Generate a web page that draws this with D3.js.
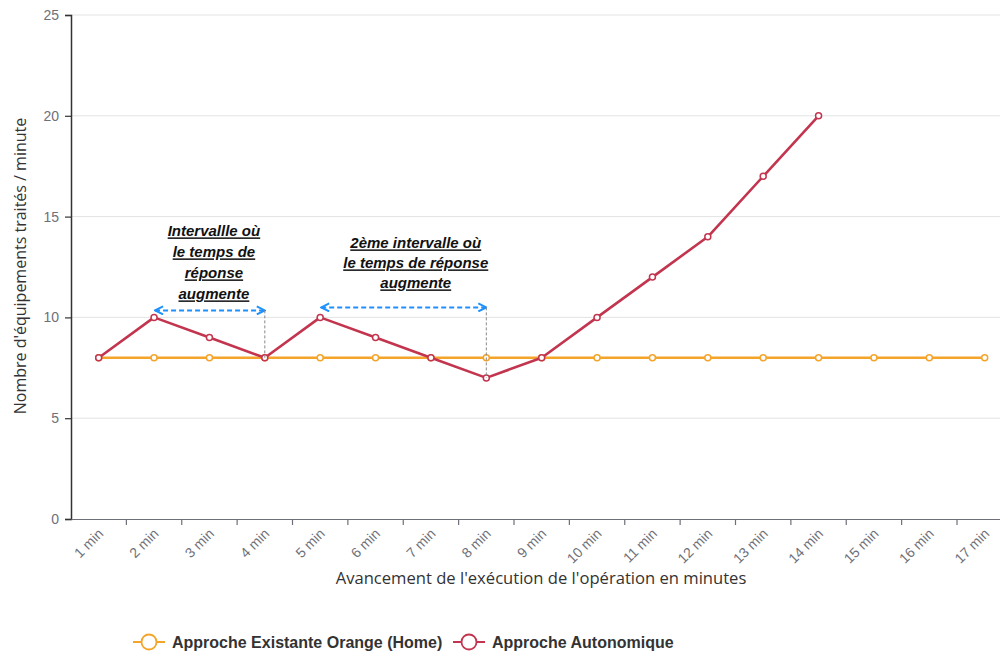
<!DOCTYPE html>
<html><head><meta charset="utf-8">
<script src="https://cdn.jsdelivr.net/npm/d3@7"></script>
<style>
html,body{margin:0;padding:0;background:#fff;overflow:hidden}
svg{display:block}
</style></head>
<body>
<svg id="chart" width="1000" height="655"></svg>
<script>
// Minutes of the operation (x categories)
const categories = ["1 min","2 min","3 min","4 min","5 min","6 min","7 min","8 min","9 min",
  "10 min","11 min","12 min","13 min","14 min","15 min","16 min","17 min"];
// Devices processed per minute
const existingValues = [8,8,8,8,8,8,8,8,8,8,8,8,8,8,8,8,8];
const autonomicValues = [8,10,9,8,10,9,8,7,8,10,12,14,17,20];
const seriesNames = ["Approche Existante Orange (Home)", "Approche Autonomique"];
const yTicks = [0,5,10,15,20,25];
// Intervals where response time rises: [start category, end category, label lines]
const intervals = [
  {from:"2 min", to:"4 min", lines:["Intervallle où","le temps de","réponse","augmente"]},
  {from:"5 min", to:"8 min", lines:["2ème intervalle où","le temps de réponse","augmente"]}
];
// per-annotation layout: arrow offset above the 10 gridline, text shift, gap, line height
const annotLayout = [
  {arrowUp:7, textDx:4, gap:11, lh:21},
  {arrowUp:10, textDx:12, gap:19, lh:20}
];

const colors = {existing:"#f5a42a", autonomic:"#c3354f"};
const svg = d3.select("#chart");
const margin = {left:71, top:15, bottom:519};
const bandW = 55.375;
const x = d3.scaleBand().domain(categories).range([margin.left, margin.left + bandW*categories.length]);
const y = d3.scaleLinear().domain([0,25]).range([margin.bottom, margin.top]);
const cx = c => x(c) + x.bandwidth()/2;

// grid
svg.append("g").selectAll("line").data(yTicks.filter(d=>d>0)).join("line")
  .attr("x1", margin.left).attr("x2", 1012)
  .attr("y1", d=>y(d)).attr("y2", d=>y(d))
  .attr("stroke","#e3e3e3").attr("stroke-width",1);

// y axis
const yAxis = svg.append("g").attr("transform",`translate(${margin.left},0)`)
  .call(d3.axisLeft(y).tickValues(yTicks).tickSize(6).tickPadding(6));
yAxis.select(".domain").attr("stroke","#333").attr("stroke-width",1.5);
yAxis.selectAll(".tick line").attr("stroke","#333").attr("stroke-width",1.2);
yAxis.selectAll("text").attr("fill","#6e7079").attr("font-size",14)
  .attr("font-family","Liberation Sans, Arial, sans-serif");

// x axis
const xAxis = svg.append("g").attr("transform",`translate(0,${margin.bottom})`)
  .call(d3.axisBottom(x).tickSizeOuter(0).tickSize(0).tickFormat(""));
xAxis.select(".domain").attr("stroke","#6e7079").attr("stroke-width",1.2);
xAxis.selectAll(".tick").remove();
// boundary ticks between categories
const bounds = categories.map(c=>x(c)).concat([x(categories[categories.length-1])+bandW]).slice(1);
xAxis.append("g").selectAll("line").data(bounds).join("line")
  .attr("x1",d=>d).attr("x2",d=>d).attr("y1",0).attr("y2",6)
  .attr("stroke","#6e7079").attr("stroke-width",1.2);
xAxis.append("g").selectAll("text").data(categories).join("text")
  .attr("transform", c=>`translate(${cx(c)+2},12) rotate(-45)`)
  .attr("text-anchor","end").attr("dy","0.35em")
  .attr("fill","#6e7079").attr("font-size",14)
  .attr("font-family","Liberation Sans, Arial, sans-serif")
  .text(c=>c);

// axis titles
svg.append("text").attr("x",541).attr("y",584).attr("text-anchor","middle")
  .attr("font-size",16.6).attr("fill","#333").attr("font-family","Open Sans, sans-serif")
  .text("Avancement de l'exécution de l'opération en minutes");
svg.append("text").attr("transform","translate(26,266) rotate(-90)").attr("text-anchor","middle")
  .attr("font-size",16).attr("fill","#333").attr("font-family","Open Sans, sans-serif")
  .text("Nombre d'équipements traités / minute");

// lines
const line = d3.line().x(d=>cx(d.c)).y(d=>y(d.v));
function drawSeries(vals, color){
  const pts = vals.map((v,i)=>({c:categories[i], v}));
  svg.append("path").datum(pts).attr("d",line).attr("fill","none")
    .attr("stroke",color).attr("stroke-width",2.6).attr("stroke-linejoin","round");
  svg.append("g").selectAll("circle").data(pts).join("circle")
    .attr("cx",d=>cx(d.c)).attr("cy",d=>y(d.v)).attr("r",3)
    .attr("fill","#fff").attr("stroke",color).attr("stroke-width",1.5);
}
drawSeries(existingValues, colors.existing);
drawSeries(autonomicValues, colors.autonomic);

// annotations
const defs = svg.append("defs");
defs.append("marker").attr("id","arrowHead").attr("viewBox","0 0 10 10")
  .attr("refX",9).attr("refY",5).attr("markerWidth",10).attr("markerHeight",10)
  .attr("markerUnits","userSpaceOnUse").attr("orient","auto-start-reverse")
  .append("path").attr("d","M1,1 L9,5 L1,9").attr("fill","none")
  .attr("stroke","#1e90ff").attr("stroke-width",2);

intervals.forEach((iv, k)=>{
  const L = annotLayout[k];
  const i1 = categories.indexOf(iv.to);
  const x0 = cx(iv.from) + 1, x1 = cx(iv.to);
  const ay = y(10) - L.arrowUp;
  svg.append("line").attr("x1",x0).attr("x2",x1).attr("y1",ay).attr("y2",ay)
    .attr("stroke","#1e90ff").attr("stroke-width",2).attr("stroke-dasharray","5,3")
    .attr("marker-start","url(#arrowHead)").attr("marker-end","url(#arrowHead)");
  svg.append("line").attr("x1",x1).attr("x2",x1).attr("y1",ay).attr("y2",y(autonomicValues[i1]))
    .attr("stroke","#888").attr("stroke-width",1).attr("stroke-dasharray","3,2");
  const tx = (x0 + x1)/2 + L.textDx;
  const top = ay - L.gap - (iv.lines.length-1)*L.lh;
  const t = svg.append("g");
  iv.lines.forEach((s,j)=>{
    t.append("text").attr("x",tx).attr("y",top + j*L.lh).attr("text-anchor","middle")
      .attr("font-size",15).attr("font-weight","bold").attr("font-style","italic")
      .attr("text-decoration","underline").attr("fill","#111")
      .attr("font-family","Liberation Sans, Arial, sans-serif").text(s);
  });
});

// legend
const legend = svg.append("g").attr("transform","translate(133,642)");
const items = [{name:seriesNames[0], color:colors.existing, x:0},{name:seriesNames[1], color:colors.autonomic, x:320}];
items.forEach(it=>{
  const g = legend.append("g").attr("transform",`translate(${it.x},0)`);
  g.append("line").attr("x1",0).attr("x2",32).attr("y1",0).attr("y2",0).attr("stroke",it.color).attr("stroke-width",2);
  g.append("circle").attr("cx",16).attr("cy",0).attr("r",7.5).attr("fill","#fff").attr("stroke",it.color).attr("stroke-width",1.8);
  g.append("text").attr("x",39).attr("y",0).attr("dy","0.35em").attr("font-size",16).attr("font-weight","bold")
    .attr("fill","#333").attr("font-family","Liberation Sans, Arial, sans-serif").text(it.name);
});
</script>
</body></html>
